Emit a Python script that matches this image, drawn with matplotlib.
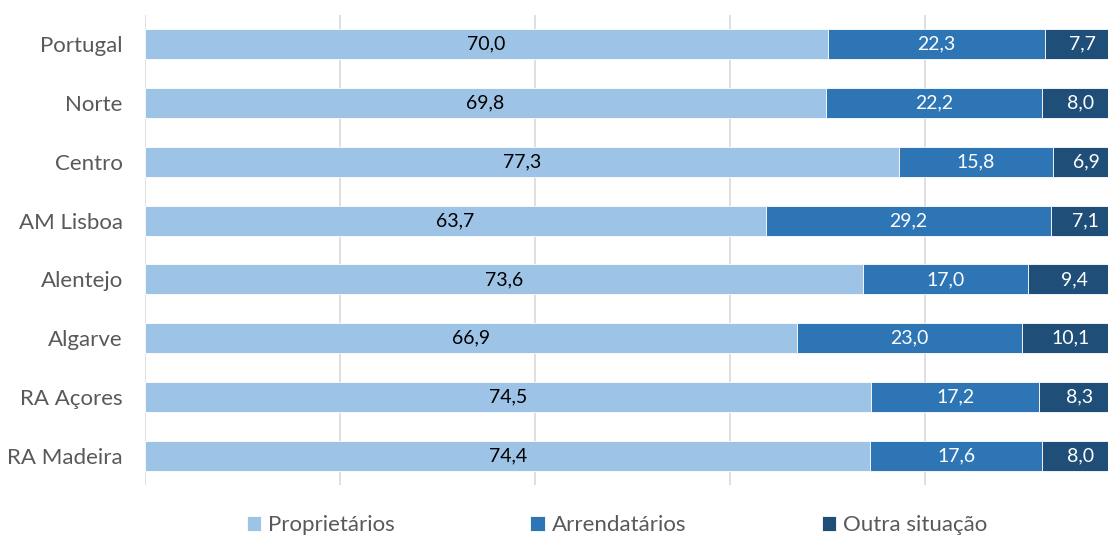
import matplotlib
matplotlib.use("Agg")
import matplotlib.pyplot as plt
import numpy as np

regions = ["Portugal", "Norte", "Centro", "AM Lisboa", "Alentejo", "Algarve", "RA Açores", "RA Madeira"]
proprietarios = [70.0, 69.8, 77.3, 63.7, 73.6, 66.9, 74.5, 74.4]
arrendatarios = [22.3, 22.2, 15.8, 29.2, 17.0, 23.0, 17.2, 17.6]
outra = [7.7, 8.0, 6.9, 7.1, 9.4, 10.1, 8.3, 8.0]
series_names = ["Proprietários", "Arrendatários", "Outra situação"]
colors = ["#9DC3E6", "#2E75B6", "#1F4E79"]
label_colors = ["#000000", "#FFFFFF", "#FFFFFF"]

plt.rcParams["font.family"] = ["Lato", "DejaVu Sans"]

W, H = 1108, 536
fig = plt.figure(figsize=(W / 100, H / 100), dpi=100)
ax = fig.add_axes([145 / W, 1 - 485 / H, 975 / W, (485 - 15) / H])

y = np.arange(len(regions))
left = np.zeros(len(regions))
for vals, name, c, lc in zip([proprietarios, arrendatarios, outra], series_names, colors, label_colors):
    vals = np.array(vals)
    ax.barh(y, vals, left=left, height=0.51, color=c, label=name,
            edgecolor="white", linewidth=0.6, zorder=3)
    for yi, l, v in zip(y, left, vals):
        ax.text(l + v / 2, yi, f"{v:.1f}".replace(".", ","), ha="center", va="center",
                color=lc, fontsize=14, zorder=4)
    left += vals

ax.set_xlim(0, 100)
ax.set_ylim(len(regions) - 0.5, -0.5)
ax.set_yticks(y)
ax.set_yticklabels(regions, fontsize=16, color="#595959")
ax.set_xticks([0, 20, 40, 60, 80, 100])
ax.tick_params(axis="x", bottom=False, labelbottom=False)
ax.tick_params(axis="y", left=False, pad=12.5)
ax.grid(axis="x", color="#D9D9D9", linewidth=1.2, zorder=0)
for s in ax.spines.values():
    s.set_visible(False)

handles, labels = ax.get_legend_handles_labels()
leg = fig.legend(handles, labels, loc="center", bbox_to_anchor=(617 / W, 1 - 525 / H), ncol=3,
                 frameon=False, fontsize=16, handlelength=0.65, handleheight=0.65,
                 handletextpad=0.3, columnspacing=6.1)
for t in leg.get_texts():
    t.set_color("#595959")

fig.savefig("out.png", dpi=100)
